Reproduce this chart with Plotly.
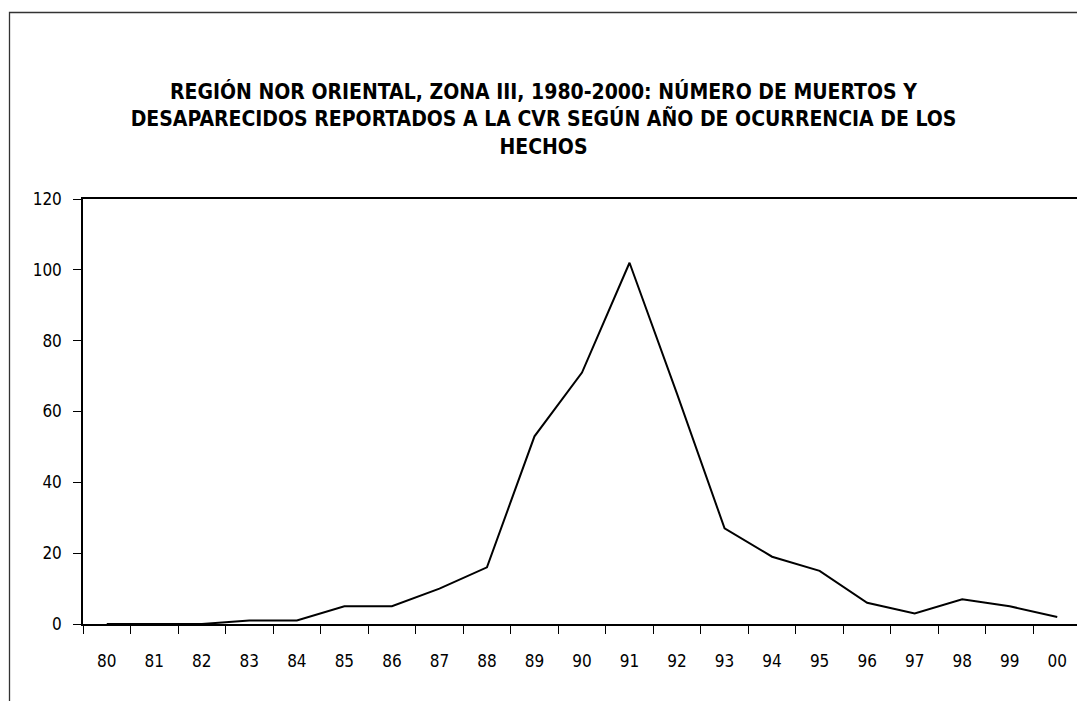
import plotly.graph_objects as go

years = ["80", "81", "82", "83", "84", "85", "86", "87", "88", "89", "90",
         "91", "92", "93", "94", "95", "96", "97", "98", "99", "00"]
victims = [0, 0, 0, 1, 1, 5, 5, 10, 16, 53, 71, 102, 65, 27, 19, 15, 6, 3, 7, 5, 2]
y_ticks = [0, 20, 40, 60, 80, 100, 120]

title_text = ("REGIÓN NOR ORIENTAL, ZONA III, 1980-2000: NÚMERO DE MUERTOS Y<br>"
              "DESAPARECIDOS REPORTADOS A LA CVR SEGÚN AÑO DE OCURRENCIA DE LOS<br>"
              "HECHOS")

FONT = "DejaVu Sans Condensed, sans-serif"

fig = go.Figure()
fig.add_trace(go.Scatter(x=years, y=victims, mode="lines",
                         line=dict(color="black", width=2), showlegend=False))

W, H = 1085, 701
OFF = 8  # page body margin offset
L, R, T, B = 83 - OFF, W - (1081 - OFF), 199 - OFF, H - (624 - OFF)
pw, ph = W - L - R, H - T - B

def px(x):
    return (x - OFF - L) / pw

def py(y):
    return (H - B - (y - OFF)) / ph

fig.update_layout(
    width=W, height=H,
    margin=dict(l=L, r=R, t=T, b=B, autoexpand=False),
    paper_bgcolor="white", plot_bgcolor="white",
    font=dict(family=FONT, color="black", size=17),
    title=dict(text=title_text, x=(543.5 - OFF) / W, xanchor="center", xref="container",
               y=1 - (99 - OFF) / H, yanchor="top",
               font=dict(family=FONT, size=21, color="black", weight="bold")),
    xaxis=dict(type="category", range=[-0.5, len(years) - 0.5], automargin=False,
               showline=True, linecolor="black", linewidth=1.5,
               mirror=True, ticks="outside", tickson="boundaries", ticklen=8,
               tickcolor="black", tickwidth=1, showgrid=False, tickfont=dict(size=17),
               ticklabelstandoff=21),
    yaxis=dict(range=[0, 120], tickvals=y_ticks, automargin=False, showline=True,
               linecolor="black", linewidth=1.5, mirror=True, ticks="outside",
               ticklen=8, tickcolor="black", tickwidth=1, showgrid=False,
               zeroline=False, tickfont=dict(size=17), ticklabelstandoff=8),
    shapes=[dict(type="rect", xref="paper", yref="paper",
                 x0=px(9.5), x1=px(1110), y0=py(730), y1=py(12.5),
                 line=dict(color="#333333", width=1.3), layer="below")],
)

fig.write_html("out.html")
